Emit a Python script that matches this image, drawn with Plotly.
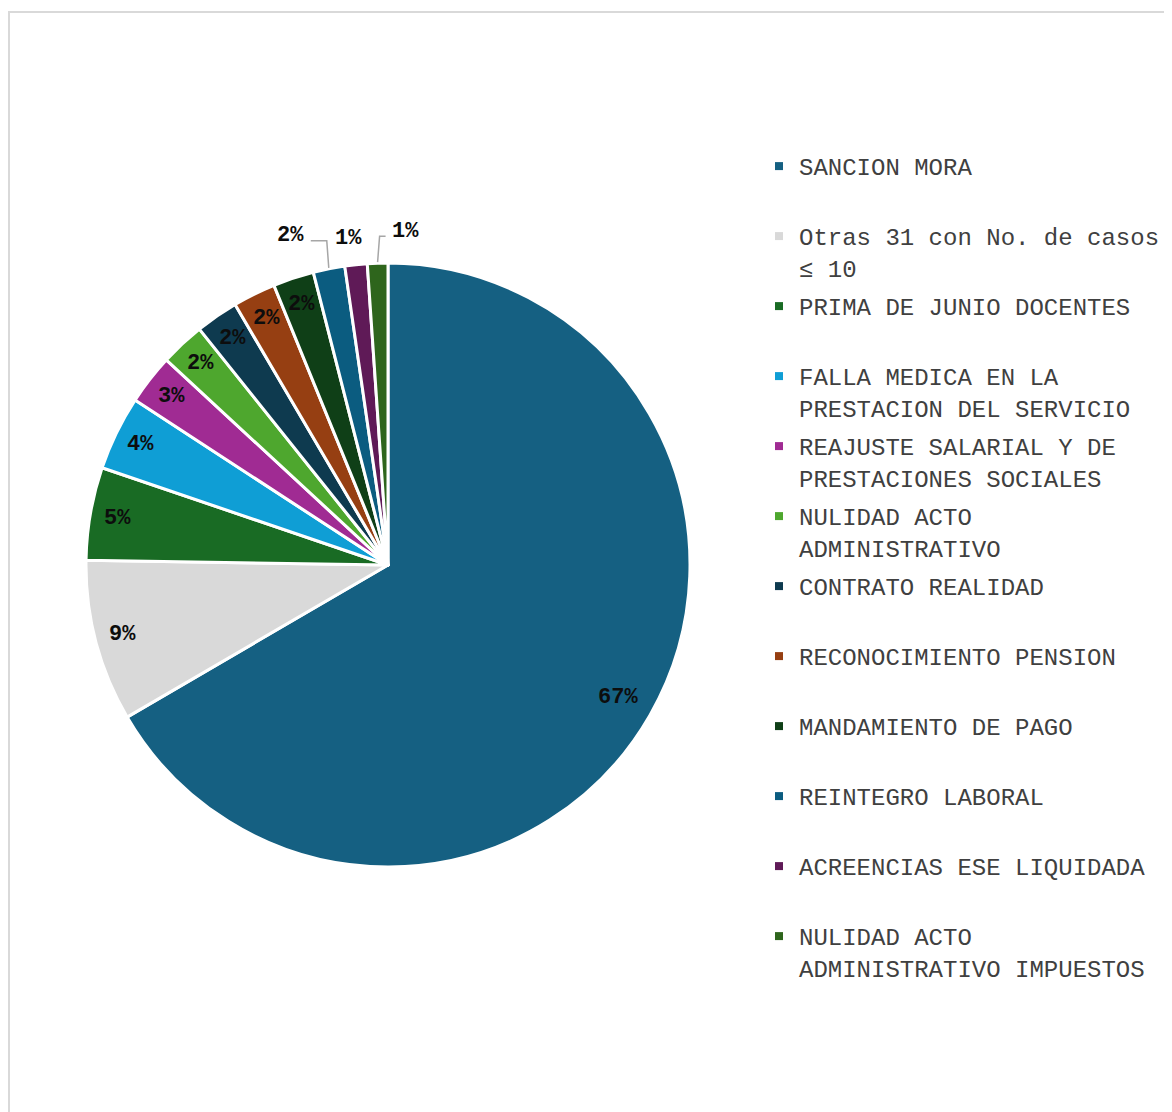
import math
import plotly.graph_objects as go

# ---- data ----
categories = [
    "SANCION MORA",
    "Otras 31 con No. de casos<br>≤ 10",
    "PRIMA DE JUNIO DOCENTES",
    "FALLA MEDICA EN LA<br>PRESTACION DEL SERVICIO",
    "REAJUSTE SALARIAL Y DE<br>PRESTACIONES SOCIALES",
    "NULIDAD ACTO<br>ADMINISTRATIVO",
    "CONTRATO REALIDAD",
    "RECONOCIMIENTO PENSION",
    "MANDAMIENTO DE PAGO",
    "REINTEGRO LABORAL",
    "ACREENCIAS ESE LIQUIDADA",
    "NULIDAD ACTO<br>ADMINISTRATIVO IMPUESTOS",
]
values = [670, 87, 50, 40, 27, 24, 23, 23, 22, 17, 12, 11]
colors = [
    "#156082", "#D9D9D9", "#196B24", "#0F9ED5", "#A02B93", "#4EA72E",
    "#0E3A4F", "#963F12", "#0F3F17", "#0B5C80", "#5F1A57", "#2E651C",
]

# ---- layout helpers (page has an 8px body margin) ----
OFF = 8
W, H = 1172 - OFF, 1112 - OFF
CX, CY, R = 388 - OFF, 565 - OFF, 302


def px(x):
    return x / W


def py(y):
    return 1 - y / H


# labels drawn outside the pie: index -> (dx, dy, leader line)
outside = {9: (-38, -32, True), 10: (-7, -25, False), 11: (28, -31, True)}
label_font = dict(family="Liberation Mono", size=22, color="#0D0D0D", weight="bold")

fig = go.Figure()
fig.add_trace(go.Pie(
    labels=categories,
    values=values,
    sort=False,
    direction="clockwise",
    rotation=0,
    marker=dict(colors=colors, line=dict(color="#FFFFFF", width=3)),
    textinfo="none",
    hoverinfo="none",
    showlegend=False,
    domain=dict(x=[px(CX - R), px(CX + R)], y=[py(CY + R), py(CY - R)]),
))

# legend entries (one per category, equal two-line height)
for i, (cat, col) in enumerate(zip(categories, colors)):
    name = cat if "<br>" in cat else cat + "<br>\u00a0"
    fig.add_trace(go.Scatter(
        x=[None], y=[None], mode="markers", name=name,
        marker=dict(symbol="square", size=8, color=col),
        legendgroup=f"g{i}", showlegend=True, hoverinfo="skip",
    ))

total = sum(values)
annotations = []
shapes = []
cum = 0.0
for i, v in enumerate(values):
    frac = v / total
    mid = (cum + frac / 2) * 2 * math.pi
    cum += frac
    pct = f"{round(frac * 100):.0f}%"
    if i in outside:
        dx, dy, line = outside[i]
        ex = CX + (R + 1) * math.sin(mid)
        ey = CY - (R + 1) * math.cos(mid)
        lx, ly = ex + dx, ey + dy
        annotations.append(dict(
            x=px(lx), y=py(ly), xref="paper", yref="paper", text=pct,
            showarrow=False, xanchor="center", yanchor="middle", font=label_font,
        ))
        if line:
            side = 1 if dx < 0 else -1
            elx, ely = ex - side * 2, ly + 5
            endx = lx + side * 20
            path = (f"M {px(ex)},{py(ey)} L {px(elx)},{py(ely)} "
                    f"L {px(endx)},{py(ely)}")
            shapes.append(dict(type="path", xref="paper", yref="paper", path=path,
                               line=dict(color="#A6A6A6", width=1.5)))
    else:
        r = (0.88 if i == 0 else 0.91) * R
        lx = CX + r * math.sin(mid)
        ly = CY - r * math.cos(mid)
        annotations.append(dict(
            x=px(lx), y=py(ly), xref="paper", yref="paper", text=pct,
            showarrow=False, xanchor="center", yanchor="middle", font=label_font,
        ))

# outer chart border (right and bottom edges fall outside the picture)
shapes.append(dict(type="rect", xref="paper", yref="paper",
                   x0=px(1), y0=-0.05, x1=1.05, y1=py(12 - OFF),
                   line=dict(color="#D9D9D9", width=2), fillcolor="rgba(0,0,0,0)",
                   layer="below"))

fig.update_layout(
    width=W, height=H,
    margin=dict(l=0, r=0, t=0, b=0),
    paper_bgcolor="#FFFFFF",
    plot_bgcolor="#FFFFFF",
    xaxis=dict(visible=False),
    yaxis=dict(visible=False),
    annotations=annotations,
    shapes=shapes,
    showlegend=True,
    legend=dict(
        x=px(759 - OFF), y=py(144 - OFF), xanchor="left", yanchor="top",
        valign="top",
        font=dict(family="Liberation Mono", size=24, color="#404040"),
        bgcolor="rgba(0,0,0,0)",
        traceorder="grouped",
        tracegroupgap=4.6,
        itemclick=False, itemdoubleclick=False,
    ),
)

fig.write_html("out.html")
